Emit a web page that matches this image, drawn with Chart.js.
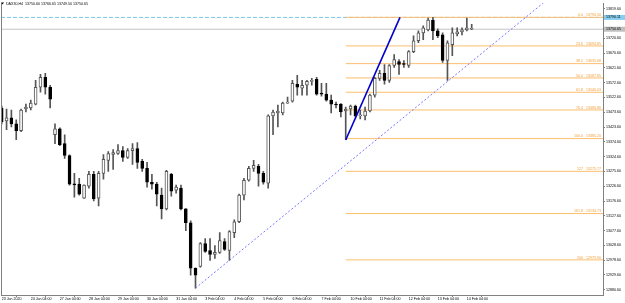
<!DOCTYPE html>
<html><head><meta charset="utf-8">
<script src="https://cdn.jsdelivr.net/npm/chart.js@4.4.1/dist/chart.umd.min.js"></script>
<style>html,body{margin:0;padding:0;background:#fff;}canvas{display:block;}</style>
</head><body>
<canvas id="c" width="625" height="303"></canvas>
<script>
// ---- DATA (DAX30, H4) ----
const opens = [13487.4,13444.4,13454.3,13434.5,13411.3,13484.1,13487.4,13500.6,13556.8,13589.8,
13556.8,13398.1,13417.9,13368.3,13328.7,13234.0,13232.8,13186.5,13226.2,13265.9,
13186.5,13269.2,13312.2,13332.0,13335.3,13345.2,13322.1,13345.2,13351.8,13308.8,
13285.7,13239.4,13232.8,13196.4,13150.2,13265.9,13213.0,13219.6,13150.2,13103.9,
12951.8,12958.4,13034.4,13011.3,12998.1,13004.7,13041.1,13011.3,13070.8,13107.2,
13196.4,13246.0,13285.7,13292.3,13269.2,13236.1,13460.9,13470.8,13470.8,13503.9,
13510.5,13566.7,13553.5,13563.4,13576.6,13583.2,13536.9,13533.6,13513.8,13500.6,
13500.6,13477.4,13484.1,13494.0,13460.9,13460.9,13477.4,13530.3,13586.5,13603.1,
13580.0,13629.5,13642.7,13636.1,13629.5,13675.8,13712.2,13738.6,13748.5,13781.6,
13745.2,13732.0,13646.1,13699.0,13735.3,13741.9,13748.5,13750.60];
const highs = [13494.0,13484.1,13480.8,13447.7,13484.1,13500.6,13513.8,13580.0,13599.8,13603.1,
13563.4,13434.5,13421.2,13398.1,13331.0,13269.2,13252.6,13231.0,13275.8,13275.8,
13275.8,13332.0,13341.9,13348.5,13365.0,13358.4,13351.8,13368.3,13371.6,13315.5,
13305.5,13265.9,13239.4,13219.6,13279.1,13269.2,13229.5,13229.5,13151.0,13110.5,
12953.0,13037.8,13051.0,13051.0,13027.8,13070.8,13051.0,13077.4,13113.8,13199.7,
13252.6,13292.3,13312.2,13298.9,13275.8,13464.2,13480.8,13497.3,13507.2,13523.7,
13580.0,13596.5,13580.0,13580.0,13586.5,13589.8,13570.0,13570.0,13530.3,13507.2,
13502.0,13490.7,13497.3,13497.3,13480.8,13490.7,13533.6,13589.8,13613.0,13632.8,
13632.8,13665.9,13649.4,13646.0,13679.0,13728.7,13745.2,13761.8,13788.2,13790.5,
13751.8,13738.6,13712.2,13755.2,13755.2,13755.2,13788.2,13766.65];
const lows = [13434.5,13414.6,13424.6,13381.6,13408.0,13474.1,13480.8,13497.3,13540.3,13533.6,
13487.4,13368.3,13361.7,13318.8,13229.5,13189.8,13196.4,13185.0,13219.6,13176.6,
13160.1,13249.3,13275.8,13282.4,13332.0,13308.8,13318.8,13298.9,13285.7,13275.8,
13222.9,13216.3,13160.1,13117.1,13146.8,13193.1,13203.0,13146.8,13077.4,12928.6,
12885.7,12955.1,13004.7,12978.2,12984.8,13001.4,13011.3,12978.2,13054.3,13104.0,
13179.9,13242.7,13275.8,13226.2,13232.8,13219.6,13398.1,13424.6,13464.2,13503.0,
13507.2,13530.3,13530.3,13530.3,13563.4,13530.3,13527.0,13510.5,13470.8,13487.4,
13457.6,13381.6,13464.2,13457.6,13451.0,13447.7,13474.1,13523.7,13580.0,13566.7,
13573.3,13622.9,13599.8,13622.9,13622.9,13672.5,13705.6,13715.5,13745.2,13715.5,
13722.1,13639.4,13580.0,13662.6,13728.7,13732.0,13745.2,13749.50];
const closes = [13441.1,13454.3,13434.5,13411.3,13480.8,13490.7,13503.9,13556.8,13589.8,13556.8,
13517.1,13417.9,13365.0,13328.7,13232.8,13230.0,13199.7,13229.5,13265.9,13183.2,
13269.2,13315.5,13335.3,13338.6,13345.2,13322.1,13345.2,13351.8,13305.5,13285.7,
13239.4,13232.8,13199.7,13150.2,13275.8,13209.7,13222.9,13150.2,13103.9,12951.8,
12928.6,13034.4,13008.0,12998.1,13004.7,13044.4,13014.6,13074.1,13107.2,13196.4,
13246.0,13285.7,13295.6,13269.2,13239.4,13460.9,13474.1,13477.4,13503.9,13506.0,
13570.0,13556.8,13563.4,13576.6,13580.0,13533.6,13533.6,13513.8,13500.6,13497.3,
13474.1,13484.1,13494.0,13460.9,13464.2,13477.4,13530.3,13586.5,13603.1,13580.0,
13629.5,13649.4,13632.8,13632.8,13675.8,13712.2,13738.6,13755.2,13781.6,13745.2,
13728.7,13646.1,13705.6,13738.6,13741.9,13748.5,13755.0,13750.65];
const dayLabels = ['23 Jan 2020','24 Jan 04:00','27 Jan 04:00','28 Jan 04:00','29 Jan 04:00','30 Jan 04:00',
'31 Jan 04:00','3 Feb 04:00','4 Feb 04:00','5 Feb 04:00','6 Feb 04:00','7 Feb 04:00','10 Feb 04:00',
'11 Feb 04:00','12 Feb 04:00','13 Feb 04:00','14 Feb 04:00'];
const barsPerDay = 6;
const priceTicks = [12880.60,12929.60,12978.60,13028.60,13077.60,13127.60,13176.60,13226.60,13275.60,
13324.60,13374.60,13423.60,13473.60,13522.60,13572.60,13621.60,13670.60,13720.60,13819.60];
const fibRatios = ['0.0','23.6','38.2','50.0','61.8','76.4','100.0','127','161.8','200'];
const fibPrices = [13790.50,13694.85,13635.68,13587.85,13540.03,13480.86,13385.20,13275.77,13134.73,12979.90];
const fibStartBar = 71;
const fibAnchors = [{x:71,y:13380.6},{x:82.2,y:13790.5}];
const trendAnchors = [{x:40,y:12885.7},{x:92.3,y:13580.0}];
const bidPrice = 13750.65;
const hLinePrice = 13790.11;
const header = 'DAX30,H4  13750.60 13766.65 13749.50 13750.65';

// ---- style ----
const FONT = '"Liberation Sans", Arial, sans-serif';
const fibColor = 'rgb(252,190,110)';
const xMin = -0.144, xMax = 124.1, yMin = 12862.5, yMax = 13837.78;

const idx = opens.map((_, i) => i);
const wickData = idx.map(i => ({x: i, y: [lows[i], highs[i]]}));
const bodyData = idx.map(i => ({x: i, y: [Math.min(opens[i], closes[i]), Math.max(opens[i], closes[i])]}));
const bull = idx.map(i => closes[i] >= opens[i]);

// trend ray: extend the line through its two anchors to the right edge
const tSlope = (trendAnchors[1].y - trendAnchors[0].y) / (trendAnchors[1].x - trendAnchors[0].x);
const trendRay = [trendAnchors[0], {x: xMax, y: trendAnchors[0].y + tSlope * (xMax - trendAnchors[0].x)}];

const lineDs = (data, color, width, dash, order) => ({
  type: 'line', data, borderColor: color, borderWidth: width, borderDash: dash || [],
  pointRadius: 0, fill: false, tension: 0, order, clip: 0
});

const datasets = [
  lineDs([{x: xMin, y: bidPrice}, {x: xMax, y: bidPrice}], '#c4c4c4', 1, [], 10),
  lineDs([{x: xMin, y: hLinePrice}, {x: xMax, y: hLinePrice}], 'rgb(120,200,230)', 1, [4, 2], 9),
  ...fibPrices.map(v => lineDs([{x: fibStartBar, y: v}, {x: xMax, y: v}], fibColor, 1, [], 8)),
  {type: 'bar', data: wickData, backgroundColor: '#555', barThickness: 1, grouped: false, order: 5},
  {type: 'bar', data: bodyData, backgroundColor: bull.map(b => b ? '#fff' : '#000'),
   borderColor: bull.map(b => b ? '#555' : '#000'), borderWidth: 1, borderSkipped: false,
   barThickness: 3, grouped: false, minBarLength: 1, order: 4},
  lineDs(trendRay, 'rgb(120,120,255)', 1, [2, 2], 2),
  lineDs(fibAnchors, '#0000cc', 1.6, [], 1)
];

const overlay = {
  id: 'overlay',
  afterDatasetsDraw(chart) {
    const {ctx, chartArea: a, scales: {y}} = chart;
    ctx.save();
    ctx.strokeStyle = '#808080'; ctx.lineWidth = 1;
    ctx.beginPath(); ctx.moveTo(a.left + 0.5, a.top); ctx.lineTo(a.left + 0.5, a.bottom); ctx.stroke();
    ctx.font = '3.6px ' + FONT; ctx.fillStyle = 'rgb(240,160,60)';
    ctx.textAlign = 'right'; ctx.textBaseline = 'bottom';
    fibRatios.forEach((r, k) => {
      ctx.fillText(r + '   ' + fibPrices[k].toFixed(2), a.right - 2, y.getPixelForValue(fibPrices[k]) - 0.5);
    });
    // header
    ctx.fillStyle = '#000';
    ctx.beginPath(); ctx.moveTo(1, 2.5); ctx.lineTo(4, 2.5); ctx.lineTo(2.5, 4.5); ctx.closePath(); ctx.fill();
    ctx.font = '3.6px ' + FONT; ctx.textAlign = 'left'; ctx.textBaseline = 'middle';
    ctx.fillText(header, 6, 3.8);
    ctx.restore();
  },
  afterDraw(chart) {
    const {ctx, chartArea: a, scales: {y}} = chart;
    ctx.save();
    ctx.font = '3.6px ' + FONT; ctx.textAlign = 'left'; ctx.textBaseline = 'middle';
    [[hLinePrice, 'rgb(135,206,240)'], [bidPrice, '#c0c0c0']].forEach(([v, col]) => {
      const py = y.getPixelForValue(v);
      ctx.fillStyle = col; ctx.fillRect(a.right + 1, py - 2.5, 21, 5);
      ctx.fillStyle = '#000'; ctx.fillText(v.toFixed(2), a.right + 3, py);
    });
    ctx.restore();
  }
};

new Chart(document.getElementById('c'), {
  type: 'bar',
  data: {datasets},
  plugins: [overlay],
  options: {
    responsive: false, animation: false, devicePixelRatio: 1,
    layout: {padding: {left: 1, top: 0, right: 0, bottom: 0}},
    plugins: {legend: {display: false}, tooltip: {enabled: false}},
    scales: {
      x: {
        type: 'linear', min: xMin, max: xMax, offset: false,
        afterBuildTicks: s => { s.ticks = dayLabels.map((_, k) => ({value: k * barsPerDay})); },
        afterFit: s => { s.height = 8; },
        ticks: {autoSkip: false, maxRotation: 0, align: 'start', padding: 0,
          font: {size: 3.6, family: FONT}, color: '#000',
          callback: (v, i) => dayLabels[i]},
        grid: {display: true, drawOnChartArea: false, drawTicks: true, tickLength: 2, color: '#808080'},
        border: {display: true, color: '#808080'}
      },
      y: {
        type: 'linear', position: 'right', min: yMin, max: yMax,
        afterBuildTicks: s => { s.ticks = priceTicks.map(v => ({value: v})); },
        afterFit: s => { s.width = 22; },
        ticks: {padding: 1, font: {size: 3.6, family: FONT}, color: '#000',
          callback: v => v.toFixed(2)},
        grid: {display: true, drawOnChartArea: false, drawTicks: true, tickLength: 2, color: '#808080'},
        border: {display: true, color: '#808080'}
      }
    }
  }
});
</script>
</body></html>
